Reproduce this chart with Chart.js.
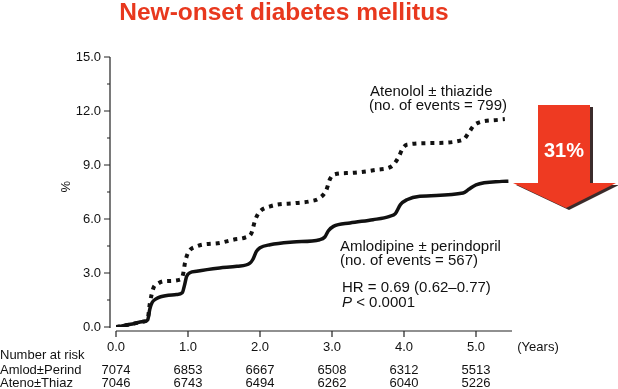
<!DOCTYPE html>
<html>
<head>
<meta charset="utf-8">
<style>
  html, body { margin: 0; padding: 0; background: #fff; }
  canvas { display: block; }
</style>
<script src="https://cdn.jsdelivr.net/npm/chart.js@4.4.1/dist/chart.umd.min.js"></script>
</head>
<body>
<canvas id="km" width="618" height="389"></canvas>
<script>
    'use strict';

    const FONT = '"Liberation Sans", Arial, Helvetica, sans-serif';
    const RED = '#e8381e';
    const INK = '#111';

    // Amlodipine ± perindopril (solid)
    const amlodYears = [0, 0.2, 0.38, 0.44, 0.47, 0.5, 0.55, 0.62, 0.84, 0.92, 0.95, 0.98, 1.03, 1.12, 1.44, 1.68, 1.86,
        1.9, 1.95, 2.0, 2.14, 2.46, 2.83, 2.9, 2.95, 3.02, 3.25, 3.57, 3.8, 3.88, 3.95, 4.04, 4.22, 4.82, 4.9, 5.0, 5.36, 5.45];
    const amlodPct = [0, 0.15, 0.3, 0.4, 1.0, 1.35, 1.55, 1.68, 1.8, 1.9, 2.3, 2.8, 3.02, 3.1, 3.28, 3.37, 3.55,
        3.75, 4.2, 4.4, 4.57, 4.72, 4.85, 5.0, 5.35, 5.59, 5.78, 5.96, 6.15, 6.3, 6.8, 7.07, 7.26, 7.44, 7.65, 7.9, 8.09, 8.1];

    // Atenolol ± thiazide (dotted)
    const atenoYears = [0, 0.2, 0.38, 0.44, 0.47, 0.52, 0.58, 0.66, 0.89, 0.93, 0.96, 1.0, 1.12, 1.44, 1.63, 1.8, 1.88,
        1.93, 1.98, 2.14, 2.51, 2.69, 2.83, 2.92, 2.97, 3.02, 3.25, 3.63, 3.83, 3.92, 3.98, 4.04, 4.4, 4.82, 4.9, 4.97,
        5.02, 5.33, 5.4];
    const atenoPct = [0, 0.15, 0.3, 0.45, 1.3, 2.17, 2.4, 2.54, 2.63, 2.9, 3.6, 4.11, 4.48, 4.67, 4.85, 4.98, 5.2,
        5.9, 6.33, 6.7, 6.89, 6.98, 7.17, 7.6, 8.2, 8.46, 8.56, 8.74, 8.93, 9.4, 9.9, 10.13, 10.22, 10.4, 10.8, 11.2,
        11.33, 11.52, 11.55];

    const xTicks = [0, 1, 2, 3, 4, 5];
    const xTickLabels = ['0.0', '1.0', '2.0', '3.0', '4.0', '5.0'];
    const yTicks = [0, 3, 6, 9, 12, 15];
    const yTickLabels = ['0.0', '3.0', '6.0', '9.0', '12.0', '15.0'];
    const yMinorTicks = [1.5, 4.5, 7.5, 10.5, 13.5];

    const riskLabels = ['Amlod±Perind', 'Ateno±Thiaz'];
    const riskAmlod = [7074, 6853, 6667, 6508, 6312, 5513];
    const riskAteno = [7046, 6743, 6494, 6262, 6040, 5226];

    function toPoints(xs, ys) {
        return xs.map(function (x, i) {
            return { x: x, y: ys[i] };
        });
    }

    function text(ctx, str, x, y, font, align, color) {
        ctx.font = font;
        ctx.textAlign = align || 'left';
        ctx.textBaseline = 'middle';
        ctx.fillStyle = color || INK;
        ctx.fillText(str, x, y);
    }

    const decorations = {
        id: 'decorations',
        afterDraw: function (chart) {
            const ctx = chart.ctx;
            const xs = chart.scales.x;
            const ys = chart.scales.y;
            const area = chart.chartArea;
            const axisX = area.left - 6;
            const axisY = area.bottom + 4;
            const tickFont = '13px ' + FONT;

            ctx.save();
            ctx.strokeStyle = '#222';
            ctx.lineWidth = 1.2;

            // y axis
            ctx.beginPath();
            ctx.moveTo(axisX, ys.getPixelForValue(15));
            ctx.lineTo(axisX, ys.getPixelForValue(0) + 1);
            yTicks.forEach(function (v) {
                const py = ys.getPixelForValue(v);
                ctx.moveTo(axisX - 6, py);
                ctx.lineTo(axisX, py);
            });
            yMinorTicks.forEach(function (v) {
                const py = ys.getPixelForValue(v);
                ctx.moveTo(axisX - 3, py);
                ctx.lineTo(axisX, py);
            });
            ctx.stroke();
            yTicks.forEach(function (v, i) {
                text(ctx, yTickLabels[i], axisX - 9, ys.getPixelForValue(v), tickFont, 'right');
            });

            ctx.save();
            ctx.translate(66, ys.getPixelForValue(7.8));
            ctx.rotate(-Math.PI / 2);
            text(ctx, '%', 0, 0, tickFont, 'center');
            ctx.restore();

            // x axis
            ctx.beginPath();
            ctx.moveTo(xs.getPixelForValue(0), axisY);
            ctx.lineTo(xs.getPixelForValue(5.5), axisY);
            xTicks.forEach(function (v) {
                const px = xs.getPixelForValue(v);
                ctx.moveTo(px, axisY);
                ctx.lineTo(px, axisY + 6);
            });
            ctx.stroke();
            xTicks.forEach(function (v, i) {
                text(ctx, xTickLabels[i], xs.getPixelForValue(v), axisY + 16, tickFont, 'center');
            });
            text(ctx, '(Years)', 538, axisY + 16, tickFont, 'center');

            // numbers at risk
            text(ctx, 'Number at risk', 0, axisY + 24, tickFont, 'left');
            [riskAmlod, riskAteno].forEach(function (row, r) {
                const py = axisY + 39 + r * 13.5;
                text(ctx, riskLabels[r], 0, py, tickFont, 'left');
                row.forEach(function (n, i) {
                    text(ctx, String(n), xs.getPixelForValue(xTicks[i]), py, tickFont, 'center');
                });
            });

            // title
            text(ctx, 'New-onset diabetes mellitus', 284, 13, 'bold 24.5px ' + FONT, 'center', RED);

            // group labels
            const labFont = '15px ' + FONT;
            text(ctx, 'Atenolol ± thiazide', 370, 92, labFont);
            text(ctx, '(no. of events = 799)', 369, 106, labFont);
            text(ctx, 'Amlodipine ± perindopril', 340, 247, labFont);
            text(ctx, '(no. of events = 567)', 340, 261, labFont);
            text(ctx, 'HR = 0.69 (0.62–0.77)', 342, 288, labFont);
            text(ctx, 'P', 342, 303, 'italic ' + labFont);
            ctx.font = 'italic ' + labFont;
            const pw = ctx.measureText('P ').width;
            text(ctx, '< 0.0001', 342 + pw, 303, labFont);

            // reduction arrow
            function arrowPath(dx, dy) {
                ctx.beginPath();
                ctx.moveTo(538 + dx, 105 + dy);
                ctx.lineTo(590 + dx, 105 + dy);
                ctx.lineTo(590 + dx, 183 + dy);
                ctx.lineTo(616 + dx, 183 + dy);
                ctx.lineTo(566 + dx, 208 + dy);
                ctx.lineTo(513 + dx, 183 + dy);
                ctx.lineTo(538 + dx, 183 + dy);
                ctx.closePath();
            }
            arrowPath(3, 2);
            ctx.fillStyle = '#3b2b2b';
            ctx.fill();
            arrowPath(0, 0);
            ctx.fillStyle = '#ee3a22';
            ctx.fill();
            text(ctx, '31%', 564, 151, 'bold 20px ' + FONT, 'center', '#fff');

            ctx.restore();
        }
    };

    new Chart(document.getElementById('km'), {
        type: 'line',
        data: {
            datasets: [{
                label: 'Amlodipine ± perindopril',
                data: toPoints(amlodYears, amlodPct),
                borderColor: INK,
                borderWidth: 3.5,
                pointRadius: 0,
                cubicInterpolationMode: 'monotone',
                fill: false,
            }, {
                label: 'Atenolol ± thiazide',
                data: toPoints(atenoYears, atenoPct),
                borderColor: INK,
                borderWidth: 4,
                borderDash: [4, 5],
                pointRadius: 0,
                cubicInterpolationMode: 'monotone',
                fill: false,
            }],
        },
        options: {
            responsive: false,
            animation: false,
            devicePixelRatio: 1,
            layout: { padding: { left: 116, right: 106, top: 57, bottom: 62 } },
            plugins: {
                legend: { display: false },
                tooltip: { enabled: false },
                title: { display: false },
            },
            scales: {
                x: { type: 'linear', min: 0, max: 5.5, display: false },
                y: { min: 0, max: 15, display: false },
            },
        },
        plugins: [decorations],
    });
</script>
</body>
</html>
